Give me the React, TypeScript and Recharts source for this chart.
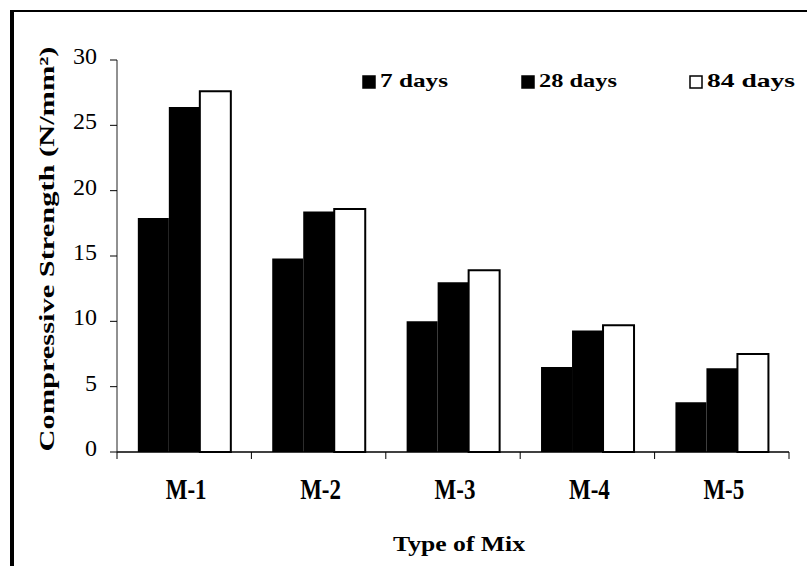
import React from "react";
import { BarChart, Bar, XAxis, YAxis, Customized } from "recharts";

const mixes = ["M-1", "M-2", "M-3", "M-4", "M-5"];
const days7 = [17.9, 14.8, 10.0, 6.5, 3.8];
const days28 = [26.4, 18.4, 13.0, 9.3, 6.4];
const days84 = [27.6, 18.6, 13.9, 9.7, 7.5];
const yTicks = [0, 5, 10, 15, 20, 25, 30];

const seriesInfo = [
  { key: "d7", name: "7 days", fill: "#000000" },
  { key: "d28", name: "28 days", fill: "#000000" },
  { key: "d84", name: "84 days", fill: "#ffffff" },
];

const data = mixes.map((mix, i) => ({
  mix,
  d7: days7[i],
  d28: days28[i],
  d84: days84[i],
}));

const W = 807;
const H = 566;
const LEFT = 117;
const RIGHT = 18;
const TOP = 60;
const BOTTOM = 114;
const BAND = (W - LEFT - RIGHT) / mixes.length;
const AXIS_Y = H - BOTTOM;
const SERIF = "'Liberation Serif', 'Times New Roman', serif";

const YTick = (props: any) => {
  const { x, y, payload } = props;
  return (
    <text
      x={x}
      y={y - 4}
      textAnchor="end"
      dominantBaseline="central"
      fontFamily={SERIF}
      fontSize={24}
      fill="#000"
    >
      {payload.value}
    </text>
  );
};

const XTick = (props: any) => {
  const { x, index, payload } = props;
  const left = x - BAND / 2;
  return (
    <g>
      <line x1={left} x2={left} y1={AXIS_Y} y2={AXIS_Y + 7} stroke="#000" />
      {index === mixes.length - 1 && (
        <line x1={x + BAND / 2} x2={x + BAND / 2} y1={AXIS_Y} y2={AXIS_Y + 7} stroke="#000" />
      )}
      <g transform={`translate(${x + 2},${AXIS_Y + 37})`}>
        <text
          textAnchor="middle"
          dominantBaseline="central"
          transform="scale(1,1.3)"
          fontFamily={SERIF}
          fontWeight="bold"
          fontSize={23}
          fill="#000"
        >
          {payload.value}
        </text>
      </g>
    </g>
  );
};

const YTitle = () => (
  <text
    x={47}
    y={249}
    transform="rotate(-90, 47, 249)"
    textAnchor="middle"
    dominantBaseline="central"
    fontFamily={SERIF}
    fontWeight="bold"
    fontSize={21}
    textLength={405}
    lengthAdjust="spacingAndGlyphs"
    fill="#000"
  >
    Compressive Strength (N/mm²)
  </text>
);

const XTitle = () => (
  <text
    x={459}
    y={543}
    textAnchor="middle"
    dominantBaseline="central"
    fontFamily={SERIF}
    fontWeight="bold"
    fontSize={22}
    textLength={132}
    lengthAdjust="spacingAndGlyphs"
    fill="#000"
  >
    Type of Mix
  </text>
);

// legend row along the top of the plot
const legendX = [363, 522, 690];
const legendW = [68, 78, 88];

const LegendRow = () => (
  <g>
    {seriesInfo.map((s, i) => (
      <g key={s.key}>
        <rect
          x={legendX[i]}
          y={76}
          width={12}
          height={12}
          fill={s.fill}
          stroke="#000"
          strokeWidth={1.5}
        />
        <text
          x={legendX[i] + 17}
          y={87}
          fontFamily={SERIF}
          fontWeight="bold"
          fontSize={19}
          textLength={legendW[i]}
          lengthAdjust="spacingAndGlyphs"
          fill="#000"
        >
          {s.name}
        </text>
      </g>
    ))}
  </g>
);

export default function App() {
  return (
    <div style={{ position: "absolute", left: 0, top: 0, width: W, height: H, background: "#fff", overflow: "hidden" }}>
      <div
        style={{
          position: "absolute",
          left: 10,
          top: 10,
          width: W + 20,
          height: H + 20,
          borderLeft: "4px solid #000",
          borderTop: "2px solid #000",
        }}
      />
      <div style={{ position: "absolute", left: 0, top: 0 }}>
        <BarChart
          width={W}
          height={H}
          data={data}
          margin={{ top: TOP, right: RIGHT, bottom: 0, left: 0 }}
          barCategoryGap="15.5%"
          barGap={0}
        >
          <XAxis
            dataKey="mix"
            height={BOTTOM}
            axisLine={{ stroke: "#000", strokeWidth: 1.5 }}
            tickLine={false}
            tick={<XTick />}
            interval={0}
          />
          <YAxis
            width={LEFT}
            domain={[0, 30]}
            ticks={yTicks}
            axisLine={{ stroke: "#222", strokeWidth: 1 }}
            tickLine={{ stroke: "#000" }}
            tickSize={7}
            tickMargin={13}
            tick={<YTick />}
          />
          {seriesInfo.map((s) => (
            <Bar
              key={s.key}
              dataKey={s.key}
              name={s.name}
              fill={s.fill}
              stroke="#000"
              strokeWidth={s.key === "d84" ? 2 : 0}
              isAnimationActive={false}
            />
          ))}
          <Customized component={YTitle} />
          <Customized component={XTitle} />
          <Customized component={LegendRow} />
        </BarChart>
      </div>
    </div>
  );
}
